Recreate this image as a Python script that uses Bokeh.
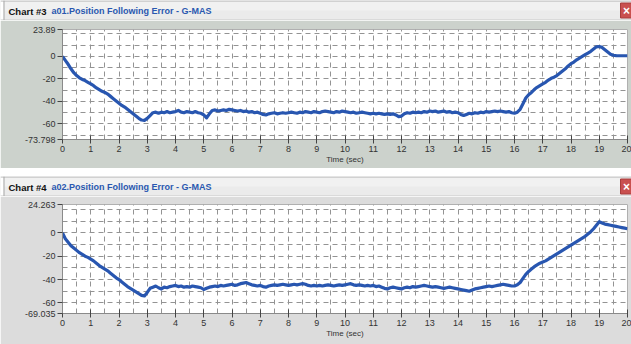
from bokeh.plotting import figure
from bokeh.models import Range1d, FixedTicker, Label, BoxAnnotation, Span
from bokeh.layouts import column
from bokeh.embed import file_html
from bokeh.resources import INLINE

# ---------------- data ----------------
time_sec = [round(i * 0.1, 1) for i in range(201)]

a01_error = [
    0, -3.5, -7, -11, -14.5, -17, -19, -20.5, -21.5, -23,
    -24.5, -26, -28, -29.5, -31, -32, -33.5, -35.5, -37.5, -39.5,
    -41.5, -43.5, -45, -47, -49, -51, -53, -55, -56.5, -56.8,
    -55, -52.5, -50, -49.5, -50.5, -49.5, -50, -49, -50, -49.5,
    -49, -48, -49.5, -50, -49, -49.5, -50, -49, -50, -50.5,
    -52, -54.5, -51, -48, -47.5, -48.5, -48, -47.5, -48, -47,
    -47.5, -48, -48.5, -48, -49, -48.5, -49.5, -49, -50, -49.5,
    -50.5, -51.5, -52, -51, -50.5, -50, -51, -50.5, -50, -50.5,
    -50, -49.5, -50, -50.5, -49.5, -50, -49, -49.5, -50, -49,
    -49.5, -50, -49, -48.5, -49, -49.5, -50, -49, -49.5, -48.5,
    -49, -49.5, -50, -49.5, -50.5, -50, -49.5, -50, -50.5, -51,
    -50.5, -51, -50.5, -51, -51.5, -51, -51.5, -51, -52, -53.5,
    -53, -51, -50, -50.5, -49.5, -50, -49.5, -50, -49, -49.5,
    -48.5, -49, -48.5, -49.5, -49, -48.5, -49.5, -49, -50, -49.5,
    -50, -51.5, -52.5, -51.5, -50.5, -51, -50, -50.5, -49.5, -50,
    -49, -49.5, -49, -48.5, -49, -48.5, -49, -49.5, -49, -50,
    -50.5, -49.5, -47, -42, -37, -34, -32, -29.5, -27.5, -26,
    -24.5, -23, -21, -19.5, -18.5, -17, -15, -13, -11, -8.5,
    -6.5, -5, -3, -1.5, 0, 1.5, 3, 4.5, 6.5, 8.5,
    8.8, 8, 6, 4, 2, 1, 0.7, 0.6, 0.6, 0.6,
    0.6,
]

a02_error = [
    0, -5, -8, -11, -13, -15, -17, -18.5, -20, -21,
    -22.5, -24, -26, -28, -29.5, -31, -32.5, -34.5, -36.5, -38.5,
    -40, -42, -44, -46, -47.5, -49, -50.5, -52, -53.5, -54,
    -51, -47.5, -46.5, -45.5, -47, -48, -46.5, -47, -46, -45.5,
    -45, -46, -45.5, -46.5, -46, -46.5, -45.5, -46, -46.5, -47,
    -48.5, -47.5, -46.5, -46, -45.5, -46, -45, -45.5, -45, -44.5,
    -44, -45, -44.5, -43.5, -43, -42.5, -43.5, -44.5, -45, -45.5,
    -45, -46, -46.5, -45.5, -45, -44.5, -45, -44.5, -44, -44.5,
    -45, -44.5, -44, -44.5, -44, -43.5, -44, -45, -45.5, -45,
    -45.5, -45, -45.5, -45, -44.5, -45, -45.5, -45, -44.5, -45,
    -44.5, -44, -43.5, -44.5, -45, -44.5, -45, -45.5, -45, -45.5,
    -45, -46, -45.5, -46.5, -47.5, -48, -47, -46.5, -47, -47.5,
    -48, -47, -46.5, -47, -46, -46.5, -46, -45.5, -45, -45.5,
    -46, -46.5, -46, -46.5, -47, -47.5, -47, -46.5, -47, -47.5,
    -48, -48.5, -49, -49.5, -50, -49, -48, -47.5, -47, -46.5,
    -46, -45.5, -46, -45.5, -45, -44.5, -44, -44.5, -45, -45.5,
    -45.5, -44.5, -42.5, -39, -35.5, -33, -31, -29, -27.5, -26,
    -25, -24, -22.5, -21, -19.5, -18, -16.5, -15, -13.5, -12,
    -10.5, -9, -7.5, -6, -4.5, -3, -1, 1, 3.5, 6.5,
    9.5, 8.5, 7.5, 7, 6.5, 6, 5.5, 5, 4.5, 4,
    3.5,
]

x_ticks = list(range(0, 21))
a01_yticks = [23.89, 0, -20, -40, -60, -73.798]
a01_ylabels = ["23.89", "0", "-20", "-40", "-60", "-73.798"]
a02_yticks = [24.263, 0, -20, -40, -60, -69.035]
a02_ylabels = ["24.263", "0", "-20", "-40", "-60", "-69.035"]
chart_names = ["Chart #3", "Chart #4"]
series_names = ["a01.Position Following Error - G-MAS",
                "a02.Position Following Error - G-MAS"]
x_axis_label = "Time (sec)"

FONT = "Liberation Sans"
W = 631


def make_bar(chart_name, series_name):
    b = figure(width=W, height=20, title=None,
               x_range=Range1d(0, W), y_range=Range1d(0, 20),
               x_axis_type=None, y_axis_type=None,
               output_backend="svg", toolbar_location=None,
               min_border=0, frame_align=False,
               background_fill_color="#ebebeb",
               border_fill_color="#ebebeb", outline_line_color=None)
    b.add_layout(BoxAnnotation(left=0, right=3, bottom=0, top=20,
                               fill_color="white", fill_alpha=1,
                               line_alpha=0))
    b.add_layout(BoxAnnotation(left=3, right=W, bottom=10, top=19,
                               fill_color="#f1f1f1", fill_alpha=1,
                               line_alpha=0))
    b.add_layout(Span(location=19.5, dimension="width",
                      line_color="#b4b4b4", line_width=1))
    b.add_layout(Span(location=0.5, dimension="width",
                      line_color="#c8c8c8", line_width=1))
    b.add_layout(Span(location=3.5, dimension="height",
                      line_color="#a8a8a8", line_width=1))
    b.add_layout(BoxAnnotation(left=620, right=631, bottom=2.5, top=17.5,
                               fill_color="#c9504f", fill_alpha=1,
                               line_color="#a83c3c", line_alpha=1))
    b.add_layout(Label(x=626, y=10, text="\u00d7", text_color="white",
                       text_font=FONT, text_font_size="12px",
                       text_font_style="bold", text_align="center",
                       text_baseline="middle"))
    b.add_layout(Label(x=8, y=9.5, text=chart_name, text_color="#111111",
                       text_font=FONT, text_font_size="9.5px",
                       text_font_style="bold", text_align="left",
                       text_baseline="middle"))
    b.add_layout(Label(x=51, y=9.5, text=series_name, text_color="#2a58b0",
                       text_font=FONT, text_font_size="9px",
                       text_font_style="bold", text_align="left",
                       text_baseline="middle"))
    return b


def make_chart(values, yticks, ylabels, bg, height, top, bottom):
    p = figure(width=W, height=height, title=None,
               x_range=Range1d(0, 20),
               y_range=Range1d(min(yticks), max(yticks)),
               output_backend="svg", toolbar_location=None,
               min_border_left=62, min_border_right=4,
               min_border_top=top, min_border_bottom=bottom,
               frame_align=False,
               background_fill_color="white", border_fill_color=bg,
               outline_line_color="#b0b0b0")

    p.xgrid.ticker = FixedTicker(ticks=[i * 0.5 for i in range(41)])
    p.ygrid.ticker = FixedTicker(ticks=list(range(-70, 30, 10)))
    for g in (p.xgrid, p.ygrid):
        g.grid_line_color = "#939393"
        g.grid_line_dash = "5 4"
        g.grid_line_width = 1

    p.xaxis.ticker = FixedTicker(ticks=x_ticks)
    p.yaxis.ticker = FixedTicker(ticks=yticks)
    p.yaxis.major_label_overrides = {t: s for t, s in zip(yticks, ylabels)}
    for ax in (p.xaxis, p.yaxis):
        ax.axis_line_color = "#8a8a8a"
        ax.major_tick_line_color = "#444444"
        ax.minor_tick_line_color = None
        ax.major_label_text_font = FONT
        ax.major_label_text_font_size = "9px"
        ax.major_label_text_color = "#333333"
        ax.major_label_standoff = 2
    p.xaxis.major_tick_in = 4
    p.xaxis.major_tick_out = 4
    p.yaxis.major_tick_in = 0
    p.yaxis.major_tick_out = 5
    p.xaxis.axis_label = x_axis_label
    p.xaxis.axis_label_text_font = FONT
    p.xaxis.axis_label_text_font_size = "8px"
    p.xaxis.axis_label_text_font_style = "normal"
    p.xaxis.axis_label_text_color = "#333333"
    p.xaxis.axis_label_standoff = 0

    p.line(time_sec, values, line_color="#2856b0", line_width=3.2,
           line_join="round")
    return p


bar1 = make_bar(chart_names[0], series_names[0])
c1 = make_chart(a01_error, a01_yticks, a01_ylabels, "#ccd2cc", 148, 9, 29)
bar2 = make_bar(chart_names[1], series_names[1])
c2 = make_chart(a02_error, a02_yticks, a02_ylabels, "#dcdcdc", 148, 8, 31)

layout = column(column(bar1, c1, spacing=0),
                column(bar2, c2, spacing=0), spacing=8)

with open("out.html", "w") as f:
    f.write(file_html(layout, INLINE))
